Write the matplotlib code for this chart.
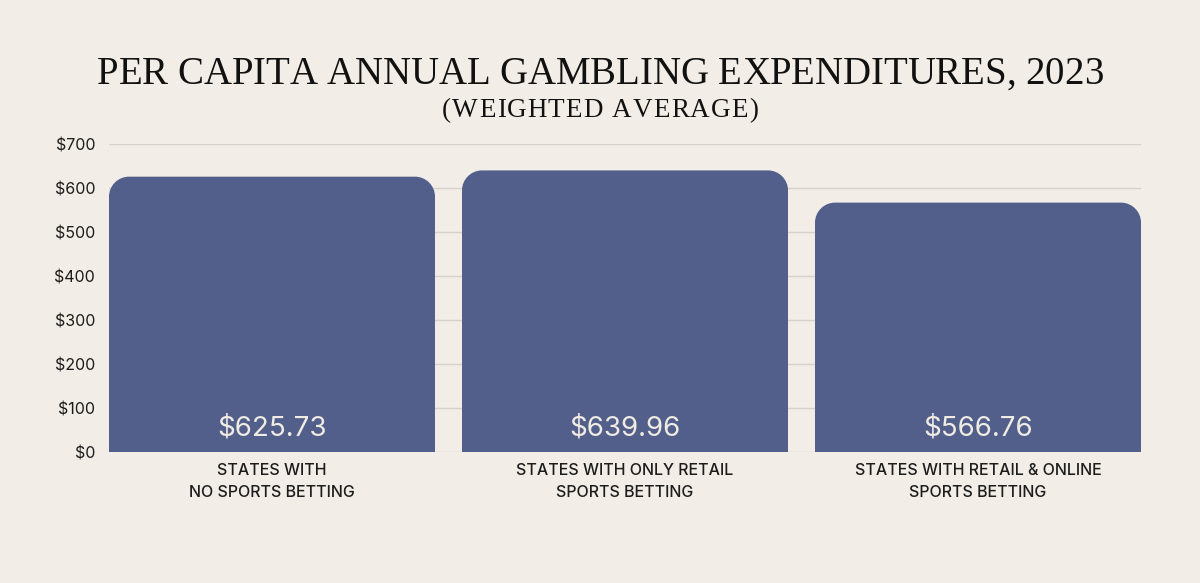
import numpy as np
import matplotlib
matplotlib.use("Agg")
import matplotlib.pyplot as plt
from matplotlib.path import Path
from matplotlib.patches import PathPatch

# Data
categories = ["STATES WITH\nNO SPORTS BETTING",
              "STATES WITH ONLY RETAIL\nSPORTS BETTING",
              "STATES WITH RETAIL & ONLINE\nSPORTS BETTING"]
values = [625.73, 639.96, 566.76]
yticks = [0, 100, 200, 300, 400, 500, 600, 700]

title = "PER CAPITA ANNUAL GAMBLING EXPENDITURES, 2023"
subtitle = "(WEIGHTED AVERAGE)"

bg = "#f2ede6"
bar_color = "#525f8b"
grid_color = "#d6d1ca"
text_color = "#1c1c1c"

W, H = 1200, 583
fig = plt.figure(figsize=(12, 5.83), dpi=100, facecolor=bg)
ax = fig.add_axes([109 / W, 131 / H, 1032 / W, 308 / H])
ax.set_facecolor(bg)

width = 0.9235
x = np.arange(len(values))
ax.set_xlim(-width / 2, len(values) - 1 + width / 2)
ax.set_ylim(0, 700)

# rounded top corners, radius given in pixels
r_px = 20
rx = r_px * (ax.get_xlim()[1] - ax.get_xlim()[0]) / 1032
ry = r_px * 700 / 308
k = 0.5523


def rounded_bar(xc, h):
    x0, x1 = xc - width / 2, xc + width / 2
    verts = [(x0, 0), (x0, h - ry),
             (x0, h - ry + k * ry), (x0 + rx - k * rx, h), (x0 + rx, h),
             (x1 - rx, h),
             (x1 - rx + k * rx, h), (x1, h - ry + k * ry), (x1, h - ry),
             (x1, 0), (x0, 0)]
    codes = [Path.MOVETO, Path.LINETO,
             Path.CURVE4, Path.CURVE4, Path.CURVE4,
             Path.LINETO,
             Path.CURVE4, Path.CURVE4, Path.CURVE4,
             Path.LINETO, Path.CLOSEPOLY]
    return PathPatch(Path(verts, codes), facecolor=bar_color, edgecolor="none", zorder=3)


for xi, v in zip(x, values):
    ax.add_patch(rounded_bar(xi, v))
    ax.text(xi, 53, f"${v:.2f}", ha="center", va="center", fontsize=20,
            color="#f0ece4", family="Inter", zorder=4)

ax.set_yticks(yticks)
ax.set_yticklabels([f"${t}" for t in yticks], family="Inter", fontsize=11.5, color=text_color)
ax.set_xticks(x)
ax.set_xticklabels(categories, family="Inter", fontsize=11.5, color=text_color,
                   linespacing=1.6, fontweight="medium")
ax.tick_params(axis="both", length=0)
ax.tick_params(axis="y", pad=10)
ax.tick_params(axis="x", pad=8)
ax.grid(axis="y", color=grid_color, linewidth=1, zorder=0)
for s in ax.spines.values():
    s.set_visible(False)


# letter-spaced text, centred, target width in pixels (no kerning)
renderer = fig.canvas.get_renderer()


def char_w(ch, **kw):
    t = fig.text(0, 0, ch + "|", **kw)
    w = t.get_window_extent(renderer).width
    t.remove()
    t = fig.text(0, 0, "|", **kw)
    w -= t.get_window_extent(renderer).width
    t.remove()
    return w


def spaced_text(s, y_px, target_w, **kw):
    widths = [char_w(ch, **kw) for ch in s]
    track = (target_w - sum(widths)) / (len(s) - 1)
    xp = (W - target_w) / 2
    for ch, w in zip(s, widths):
        if ch != " ":
            fig.text(xp / W, 1 - y_px / H, ch, ha="left", va="baseline", **kw)
        xp += w + track


spaced_text(title, 84, 1006, fontsize=28, family="Liberation Serif", color="#111111")
spaced_text(subtitle, 117, 316, fontsize=19.5, family="Liberation Serif", color="#111111")

plt.savefig("out.png", dpi=100, facecolor=bg)
